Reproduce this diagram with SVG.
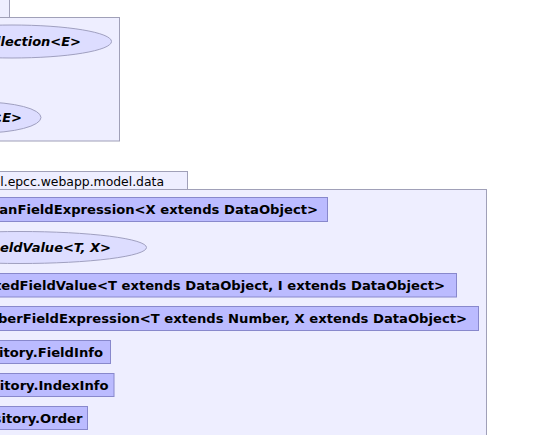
<svg xmlns="http://www.w3.org/2000/svg" width="548" height="435" viewBox="0 0 548 435">
<style>
.pkg{fill:#EEEEFF;stroke:#A0A0B8;stroke-width:1}
.cls{fill:#BBBBFF;stroke:#8888CC;stroke-width:1}
.ifc{fill:#DDDDFF;stroke:#A0A0C0;stroke-width:1}
.t{font-family:"DejaVu Sans",sans-serif;font-size:13.15px;font-weight:bold;fill:#000;text-anchor:end}
.ti{font-family:"DejaVu Sans",sans-serif;font-size:13px;font-weight:bold;font-style:italic;fill:#000;text-anchor:end}
.tp{font-family:"DejaVu Sans",sans-serif;font-size:12.4px;fill:#000;text-anchor:end}
</style>
<rect width="548" height="435" fill="#FFFFFF"/>
<g id="package-top">
<rect class="pkg" x="-10" y="-1" width="19.5" height="18.5"/>
<rect class="pkg" x="-10" y="17.5" width="129.5" height="123.5"/>
</g>
<g id="node-collection">
<ellipse class="ifc" cx="12" cy="41.5" rx="99.5" ry="16.5"/>
<text class="ti" x="81" y="46">llection&lt;E&gt;</text>
</g>
<g id="node-e">
<ellipse class="ifc" cx="-19" cy="117.5" rx="60" ry="15.5"/>
<text class="ti" x="22" y="122">&lt;E&gt;</text>
</g>
<g id="package-data">
<rect class="pkg" x="-10" y="171.5" width="197.5" height="18"/>
<text class="tp" x="164" y="185.5">l.epcc.webapp.model.data</text>
<rect class="pkg" x="-10" y="189.5" width="496.5" height="260"/>
</g>
<g id="node-fieldexpression">
<rect class="cls" x="-10" y="197.5" width="337.5" height="24"/>
<text class="t" x="318" y="213.5">anFieldExpression&lt;X extends DataObject&gt;</text>
</g>
<g id="node-fieldvalue">
<ellipse class="ifc" cx="20" cy="247.5" rx="126.5" ry="16"/>
<text class="ti" x="111" y="252.3">eldValue&lt;T, X&gt;</text>
</g>
<g id="node-indexedfieldvalue">
<rect class="cls" x="-10" y="273.5" width="466.5" height="23.5"/>
<text class="t" x="445" y="290">tedFieldValue&lt;T extends DataObject, I extends DataObject&gt;</text>
</g>
<g id="node-numberfieldexpression">
<rect class="cls" x="-10" y="306.5" width="488.5" height="24"/>
<text class="t" x="467" y="323">berFieldExpression&lt;T extends Number, X extends DataObject&gt;</text>
</g>
<g id="node-fieldinfo">
<rect class="cls" x="-10" y="340.5" width="120.5" height="23"/>
<text class="t" x="103" y="356.5">sitory.FieldInfo</text>
</g>
<g id="node-indexinfo">
<rect class="cls" x="-10" y="373.5" width="124" height="23"/>
<text class="t" x="108.5" y="389.5">sitory.IndexInfo</text>
</g>
<g id="node-order">
<rect class="cls" x="-10" y="406.5" width="97.5" height="23"/>
<text class="t" x="82.5" y="422.5">sitory.Order</text>
</g>
<g id="connectors"></g>
</svg>
